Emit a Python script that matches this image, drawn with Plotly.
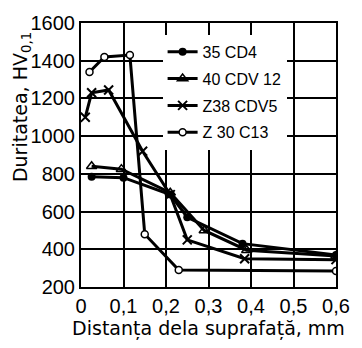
import plotly.graph_objects as go

x_35cd4 = [0.025, 0.10, 0.21, 0.25, 0.38, 0.6]
y_35cd4 = [785, 780, 690, 570, 430, 370]
x_40cdv12 = [0.025, 0.095, 0.21, 0.29, 0.39, 0.6]
y_40cdv12 = [840, 825, 700, 500, 395, 365]
x_z38 = [0.01, 0.025, 0.065, 0.145, 0.21, 0.25, 0.385, 0.6]
y_z38 = [1100, 1230, 1245, 920, 690, 450, 350, 345]
x_z30 = [0.02, 0.055, 0.115, 0.15, 0.23, 0.6]
y_z30 = [1340, 1420, 1430, 480, 290, 285]

names = ["35 CD4", "40 CDV 12", "Z38 CDV5", "Z 30 C13"]
xtick_vals = [0, 0.1, 0.2, 0.3, 0.4, 0.5, 0.6]
xtick_text = ["0", "0,1", "0,2", "0,3", "0,4", "0,5", "0,6"]
ytick_vals = [200, 400, 600, 800, 1000, 1200, 1400, 1600]

FONT = "DejaVu Sans"
TICKFONT = "Liberation Sans"
series = [
    (x_35cd4, y_35cd4, dict(symbol="circle", color="black", size=8)),
    (x_40cdv12, y_40cdv12, dict(symbol="triangle-up-open", color="black", size=9, line=dict(width=1.5))),
    (x_z38, y_z38, dict(symbol="x-thin-open", color="black", size=9, line=dict(width=2))),
    (x_z30, y_z30, dict(symbol="circle", color="white", size=7, line=dict(width=1.5, color="black"))),
]

fig = go.Figure()
for i, (xs, ys, mk) in enumerate(series):
    fig.add_trace(go.Scatter(
        x=xs, y=ys, mode="lines+markers", name=names[i],
        line=dict(color="black", width=3), marker=mk,
        legendgroup=f"g{i}",
    ))

fig.update_layout(
    width=362, height=348,
    margin=dict(l=81, r=14, t=13, b=61),
    paper_bgcolor="white", plot_bgcolor="white",
    font=dict(family=FONT, color="black", size=17),
    showlegend=True,
    legend=dict(x=0.32, y=0.955, xanchor="left", yanchor="top",
                bgcolor="white", font=dict(size=16, family=TICKFONT),
                tracegroupgap=3, itemwidth=30),
    annotations=[dict(
        text="Duritatea, HV<sub>0,1</sub>", textangle=-90,
        xref="paper", yref="paper", x=-0.233, y=0.68,
        xanchor="center", yanchor="middle", showarrow=False,
        font=dict(size=19, family=FONT),
    )],
)
fig.update_xaxes(
    range=[0, 0.6], tickvals=xtick_vals, ticktext=xtick_text,
    tickfont=dict(family=TICKFONT, size=20),
    showgrid=True, gridcolor="black", gridwidth=1.5,
    showline=True, linecolor="black", linewidth=2, mirror=True,
    ticks="", zeroline=False,
    title=dict(text="Distanța dela suprafață, mm", font=dict(size=19), standoff=4),
)
fig.update_yaxes(
    range=[200, 1600], tickvals=ytick_vals,
    tickfont=dict(family=TICKFONT, size=20),
    showgrid=True, gridcolor="black", gridwidth=1.5,
    showline=True, linecolor="black", linewidth=2, mirror=True,
    ticks="", zeroline=False,
)

fig.write_html("out.html")
